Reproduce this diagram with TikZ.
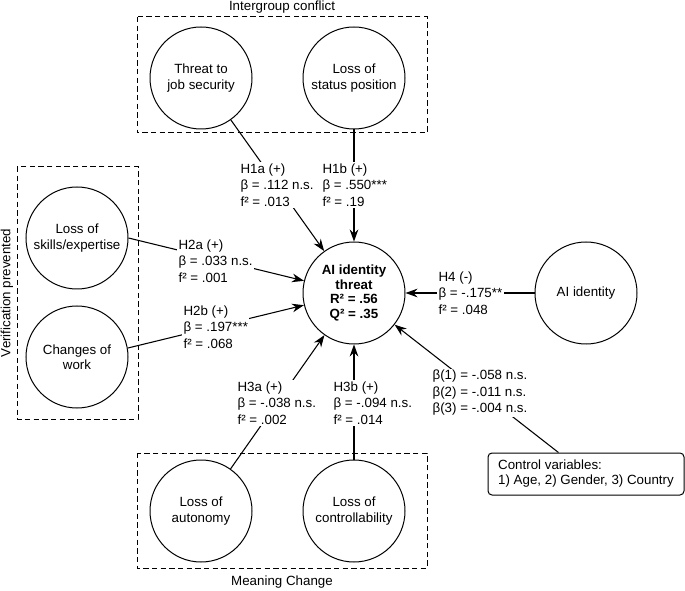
\documentclass[tikz,border=0pt]{standalone}
\usepackage{fontspec}
\setmainfont{Liberation Sans}
\usetikzlibrary{arrows.meta}
\def\txtfont{\fontsize{10}{12.4}\selectfont}
\tikzset{
	var/.style={draw, circle, minimum size=76.5pt, inner sep=0pt, align=center, line width=0.75pt, font=\fontsize{10}{11.6}\selectfont},
	lbl/.style={fill=white, inner sep=1pt, align=left, anchor=west, font=\txtfont},
	grp/.style={draw, line width=0.75pt, dash pattern=on 4pt off 2.5pt},
	arr/.style={line width=0.8pt, -{Stealth[length=9pt,width=6.5pt]}}
}

\begin{document}
\begin{tikzpicture}[x=0.75pt, y=-0.75pt]
		%%%%% START %%%%%
		\useasboundingbox (0,0) rectangle (685,591);
		
		\draw[grp] (137,17) rectangle (427,133);
		\draw[grp] (17,167) rectangle (138,419);
		\draw[grp] (137,453) rectangle (427,568);
		
		\node[font=\txtfont] (intergroup) at (282,7) {Intergroup conflict};
		\node[font=\txtfont, rotate=90] (verification) at (7,293) {Verification prevented};
		\node[font=\txtfont] (meaning) at (282,582) {Meaning Change};
		
		\node[var] (jobsec) at (201,78) {Threat to\\job security};
		\node[var] (status) at (354,78) {Loss of\\status position};
		\node[var] (skills) at (77,238) {Loss of\\skills/expertise};
		\node[var] (changes) at (77,357) {Changes of\\work};
		\node[var] (autonomy) at (201,511) {Loss of\\autonomy};
		\node[var] (controllab) at (354,511) {Loss of\\controllability};
		\node[var, font=\bfseries\fontsize{10}{10.9}\selectfont] (threat) at (354,293) {AI identity\\threat\\R² = .56\\Q² = .35};
		\node[var] (aiid) at (586,293) {AI identity};
		\node[draw, rounded corners=3pt, line width=0.75pt, align=left, font=\fontsize{10}{11.2}\selectfont, minimum width=147pt, minimum height=31.5pt] (covars) at (586,474) {Control variables:\\1) Age, 2) Gender, 3) Country};
		
		\draw[arr] (jobsec) -- (threat);
		\draw[arr] (status) -- (threat);
		\draw[arr] (skills.east) -- (threat);
		\draw[arr] (changes.10) -- (threat);
		\draw[arr] (autonomy) -- (threat);
		\draw[arr] (controllab) -- (threat);
		\draw[arr] (aiid) -- (threat);
		\draw[arr] (covars) -- (threat);
		
		\node[lbl] (h1a) at (239,185) {H1a (+)\\β = .112 n.s.\\f² = .013};
		\node[lbl] (h1b) at (321,185) {H1b (+)\\β = .550***\\f² = .19};
		\node[lbl] (h2a) at (177,261) {H2a (+)\\β = .033 n.s.\\f² = .001};
		\node[lbl] (h2b) at (182,327) {H2b (+)\\β = .197***\\f² = .068};
		\node[lbl] (h3a) at (236,403) {H3a (+)\\β = -.038 n.s.\\f² = .002};
		\node[lbl] (h3b) at (332,403) {H3b (+)\\β = -.094 n.s.\\f² = .014};
		\node[lbl] (h4) at (437,293) {H4 (-)\\β = -.175**\\f² = .048};
		\node[lbl] (ctrlbeta) at (431,393) {β(1) = -.058 n.s.\\β(2) = -.011 n.s.\\β(3) = -.004 n.s.};
		
		%%%%% END %%%%%
\end{tikzpicture}
\end{document}
